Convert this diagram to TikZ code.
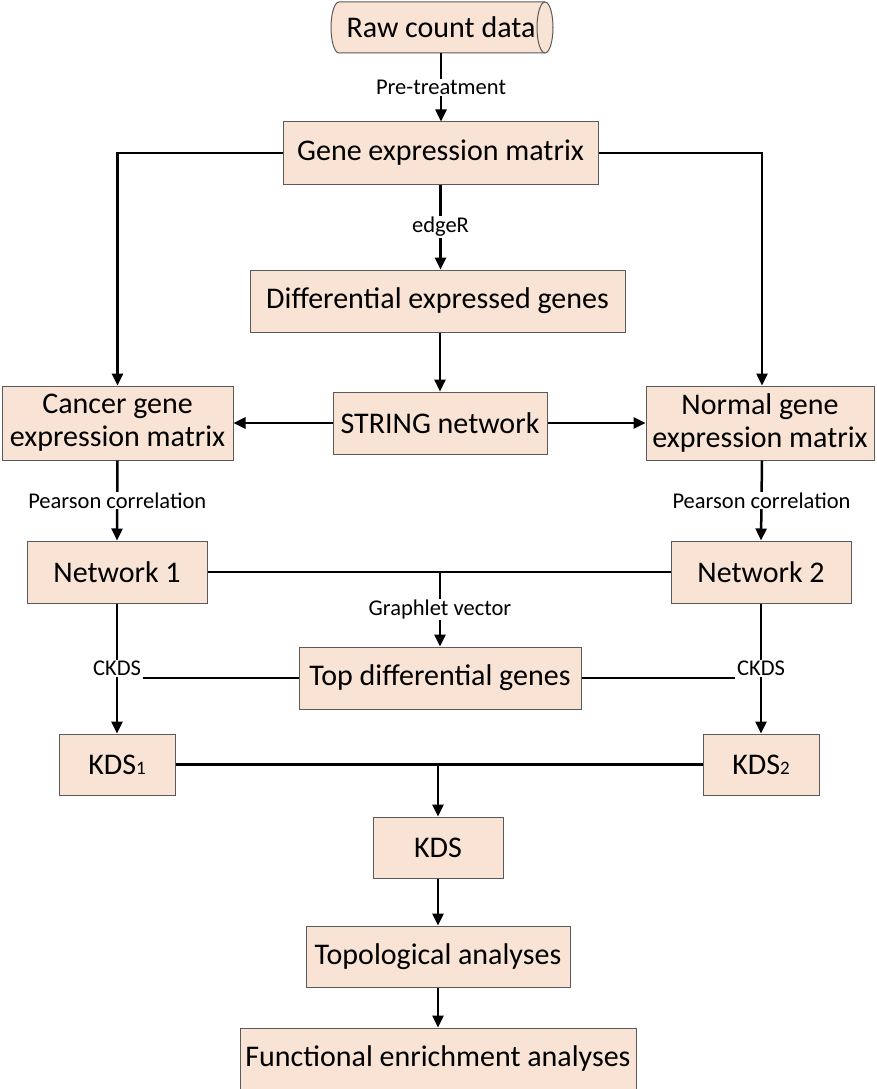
\documentclass[tikz,border=0pt]{standalone}
\usepackage{fontspec}
\setmainfont{Carlito}
\usetikzlibrary{arrows.meta}
\definecolor{boxfill}{RGB}{248,227,212}
\definecolor{boxline}{RGB}{90,90,90}
\newcommand{\smallsub}[1]{{\fontsize{19}{19}\selectfont #1}}
\begin{document}
\begin{tikzpicture}[x=1pt,y=-1pt,
  box/.style={draw=boxline,line width=1pt,fill=boxfill,font=\fontsize{30}{33}\selectfont,align=center,inner sep=0pt},
  lab/.style={fill=white,font=\fontsize{22.5}{24}\selectfont,inner sep=1pt},
  conn/.style={line width=2.5pt},
  arr/.style={line width=2.5pt,-{Triangle[length=12pt,width=11pt]}}]
\useasboundingbox[fill=white] (0,0) rectangle (877,1089);
% cylinder drawn directly
\filldraw[draw=boxline,line width=1pt,fill=boxfill] (339,2) -- (545,2)
  arc[start angle=-90,end angle=90,x radius=8,y radius=25.5] -- (339,53)
  arc[start angle=90,end angle=270,x radius=8,y radius=25.5] -- cycle;
\draw[boxline,line width=1pt] (545,2) arc[start angle=-90,end angle=-270,x radius=8,y radius=25.5];
\node[font=\fontsize{30}{33}\selectfont,inner sep=0pt,minimum width=222pt,minimum height=51pt] (raw) at (441,27.5) {Raw count data};
\node[box,minimum width=315pt,minimum height=62pt] (gene) at (440.5,153) {Gene expression matrix};
\node[box,minimum width=375pt,minimum height=62pt] (diff) at (437.5,301) {Differential expressed genes};
\node[box,minimum width=214pt,minimum height=62pt] (string) at (440,423) {STRING network};
\node[box,minimum width=231pt,minimum height=74pt] (cancer) at (117.5,423) {Cancer gene\\expression matrix};
\node[box,minimum width=228pt,minimum height=74pt] (normal) at (760,423) {Normal gene\\expression matrix};
\node[box,minimum width=180pt,minimum height=62pt] (net1) at (117,572) {Network 1};
\node[box,minimum width=180pt,minimum height=62pt] (net2) at (761,572) {Network 2};
\node[box,minimum width=282pt,minimum height=62pt] (top) at (440,678) {Top differential genes};
\node[box,minimum width=116pt,minimum height=61pt] (kds1) at (117,764.5) {KDS\smallsub{1}};
\node[box,minimum width=116pt,minimum height=61pt] (kds2) at (761,764.5) {KDS\smallsub{2}};
\node[box,minimum width=130pt,minimum height=61pt] (kds) at (438,847.5) {KDS};
\node[box,minimum width=264pt,minimum height=61pt] (topo) at (438,956.5) {Topological analyses};
\node[box,minimum width=396pt,minimum height=61pt] (func) at (438,1058.5) {Functional enrichment analyses};
% connectors
\draw[arr] (raw.south) -- node[lab] {Pre-treatment} (gene.north -| raw.south);
\draw[arr] (gene.south) -- node[lab] {edgeR} (diff.north -| gene.south);
\draw[arr] (gene.west) -| (cancer.north);
\draw[arr] (gene.east) -| ([xshift=2pt]normal.north);
\draw[arr] (diff.south -| string.north) -- (string.north);
\draw[arr] (string.west) -- (cancer.east);
\draw[arr] (string.east) -- (normal.west);
\draw[arr] (cancer.south) -- node[lab] {Pearson correlation} (net1.north);
\draw[arr] ([xshift=2pt]normal.south) -- node[lab] {Pearson correlation} (net2.north);
\draw[conn] (net1.east) -- (net2.west);
\coordinate (gm) at (440,572);
\draw[arr] (gm) -- node[lab] {Graphlet vector} (top.north);
\draw[arr] (net1.south) -- node[lab] (ck1) {CKDS} (kds1.north);
\draw[arr] (net2.south) -- node[lab] (ck2) {CKDS} (kds2.north);
\draw[conn] (top.west) -- (top.west -| ck1.east);
\draw[conn] (top.east) -- (top.east -| ck2.west);
\draw[conn] (kds1.east) -- (kds2.west);
\coordinate (km) at (438,764.5);
\draw[arr] (km) -- (kds.north);
\draw[arr] (kds.south) -- (topo.north);
\draw[arr] (topo.south) -- (func.north);
\end{tikzpicture}
\end{document}
